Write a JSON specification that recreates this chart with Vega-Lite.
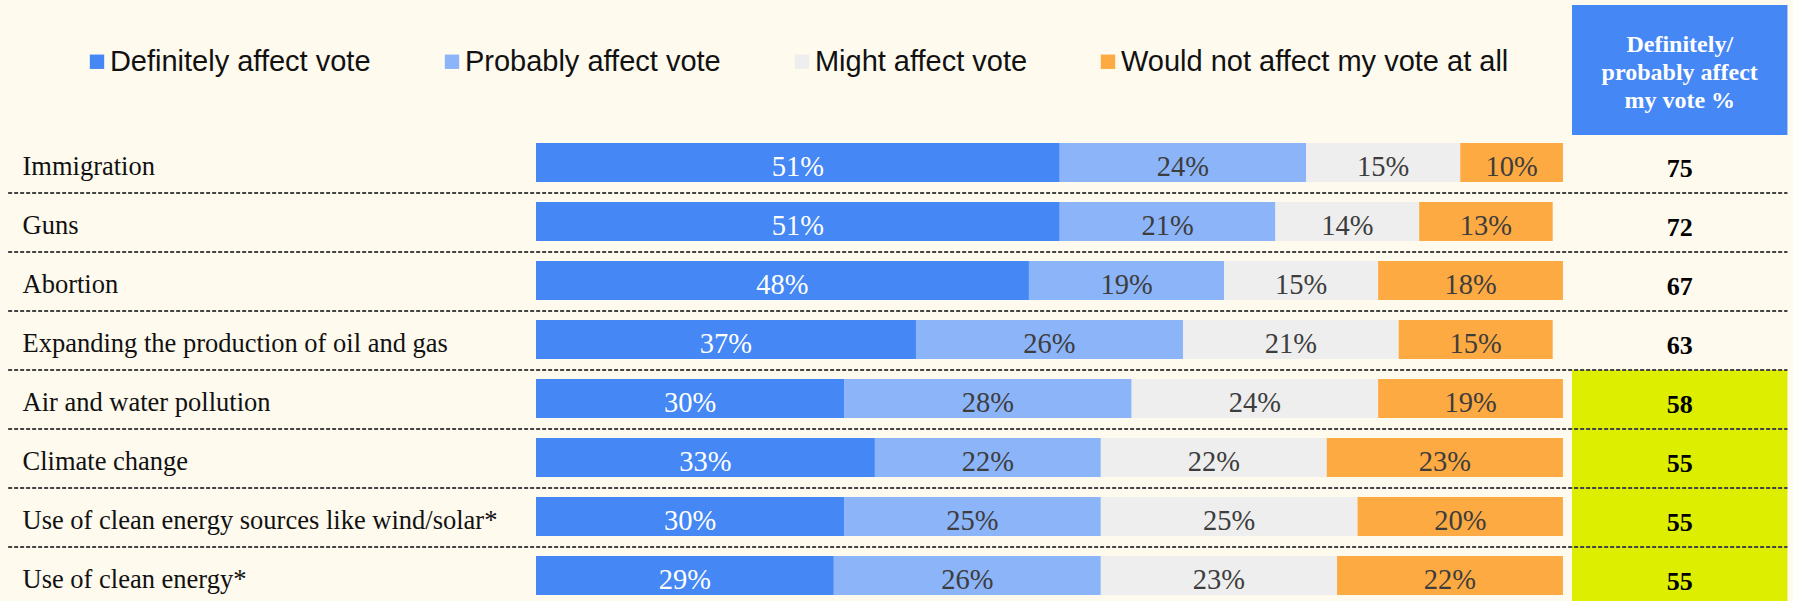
{
  "$schema": "https://vega.github.io/schema/vega-lite/v6.json",
  "width": 1257,
  "height": 468,
  "autosize": {"type": "none"},
  "padding": {"left": 536, "top": 133, "right": 0, "bottom": 0},
  "background": "#FEFAEE",
  "config": {"view": {"stroke": null}, "font": "Liberation Serif"},
  "datasets": {
    "responses": [
      {"topic": "Immigration", "response": "Definitely affect vote", "k": 1, "value": 51, "label": "51%"},
      {"topic": "Immigration", "response": "Probably affect vote", "k": 2, "value": 24, "label": "24%"},
      {"topic": "Immigration", "response": "Might affect vote", "k": 3, "value": 15, "label": "15%"},
      {"topic": "Immigration", "response": "Would not affect my vote at all", "k": 4, "value": 10, "label": "10%"},
      {"topic": "Guns", "response": "Definitely affect vote", "k": 1, "value": 51, "label": "51%"},
      {"topic": "Guns", "response": "Probably affect vote", "k": 2, "value": 21, "label": "21%"},
      {"topic": "Guns", "response": "Might affect vote", "k": 3, "value": 14, "label": "14%"},
      {"topic": "Guns", "response": "Would not affect my vote at all", "k": 4, "value": 13, "label": "13%"},
      {"topic": "Abortion", "response": "Definitely affect vote", "k": 1, "value": 48, "label": "48%"},
      {"topic": "Abortion", "response": "Probably affect vote", "k": 2, "value": 19, "label": "19%"},
      {"topic": "Abortion", "response": "Might affect vote", "k": 3, "value": 15, "label": "15%"},
      {"topic": "Abortion", "response": "Would not affect my vote at all", "k": 4, "value": 18, "label": "18%"},
      {"topic": "Expanding the production of oil and gas", "response": "Definitely affect vote", "k": 1, "value": 37, "label": "37%"},
      {"topic": "Expanding the production of oil and gas", "response": "Probably affect vote", "k": 2, "value": 26, "label": "26%"},
      {"topic": "Expanding the production of oil and gas", "response": "Might affect vote", "k": 3, "value": 21, "label": "21%"},
      {"topic": "Expanding the production of oil and gas", "response": "Would not affect my vote at all", "k": 4, "value": 15, "label": "15%"},
      {"topic": "Air and water pollution", "response": "Definitely affect vote", "k": 1, "value": 30, "label": "30%"},
      {"topic": "Air and water pollution", "response": "Probably affect vote", "k": 2, "value": 28, "label": "28%"},
      {"topic": "Air and water pollution", "response": "Might affect vote", "k": 3, "value": 24, "label": "24%"},
      {"topic": "Air and water pollution", "response": "Would not affect my vote at all", "k": 4, "value": 18, "label": "19%"},
      {"topic": "Climate change", "response": "Definitely affect vote", "k": 1, "value": 33, "label": "33%"},
      {"topic": "Climate change", "response": "Probably affect vote", "k": 2, "value": 22, "label": "22%"},
      {"topic": "Climate change", "response": "Might affect vote", "k": 3, "value": 22, "label": "22%"},
      {"topic": "Climate change", "response": "Would not affect my vote at all", "k": 4, "value": 23, "label": "23%"},
      {"topic": "Use of clean energy sources like wind/solar*", "response": "Definitely affect vote", "k": 1, "value": 30, "label": "30%"},
      {"topic": "Use of clean energy sources like wind/solar*", "response": "Probably affect vote", "k": 2, "value": 25, "label": "25%"},
      {"topic": "Use of clean energy sources like wind/solar*", "response": "Might affect vote", "k": 3, "value": 25, "label": "25%"},
      {"topic": "Use of clean energy sources like wind/solar*", "response": "Would not affect my vote at all", "k": 4, "value": 20, "label": "20%"},
      {"topic": "Use of clean energy*", "response": "Definitely affect vote", "k": 1, "value": 29, "label": "29%"},
      {"topic": "Use of clean energy*", "response": "Probably affect vote", "k": 2, "value": 26, "label": "26%"},
      {"topic": "Use of clean energy*", "response": "Might affect vote", "k": 3, "value": 23, "label": "23%"},
      {"topic": "Use of clean energy*", "response": "Would not affect my vote at all", "k": 4, "value": 22, "label": "22%"}
    ],
    "totals": [
      {"topic": "Immigration", "total": 75, "highlight": false},
      {"topic": "Guns", "total": 72, "highlight": false},
      {"topic": "Abortion", "total": 67, "highlight": false},
      {"topic": "Expanding the production of oil and gas", "total": 63, "highlight": false},
      {"topic": "Air and water pollution", "total": 58, "highlight": true},
      {"topic": "Climate change", "total": 55, "highlight": true},
      {"topic": "Use of clean energy sources like wind/solar*", "total": 55, "highlight": true},
      {"topic": "Use of clean energy*", "total": 55, "highlight": true}
    ],
    "header": [
      {"section": "header", "text": "Definitely/\nprobably affect\nmy vote %"}
    ]
  },
  "layer": [
    {
      "data": {"name": "responses"},
      "encoding": {
        "y": {
          "field": "topic", "type": "nominal",
          "scale": {"domain": ["Immigration", "Guns", "Abortion", "Expanding the production of oil and gas", "Air and water pollution", "Climate change", "Use of clean energy sources like wind/solar*", "Use of clean energy*"], "range": [0, 472], "paddingInner": 0, "paddingOuter": 0},
          "axis": {"title": null, "domain": false, "ticks": false, "tickSize": 0, "grid": false, "labelAlign": "left", "labelPadding": 514, "labelBaseline": "alphabetic", "labelOffset": 12.5, "labelFont": "Liberation Serif", "labelFontSize": 26.5, "labelColor": "#111111", "labelLimit": 700}
        }
      },
      "layer": [
        {
          "mark": {"type": "bar", "height": 39},
          "encoding": {
            "x": {"field": "value", "type": "quantitative", "stack": "zero", "scale": {"domain": [0, 122.4], "nice": false, "zero": false}, "axis": null},
            "color": {
              "field": "response", "type": "nominal",
              "scale": {"domain": ["Definitely affect vote", "Probably affect vote", "Might affect vote", "Would not affect my vote at all"], "range": ["#4487F5", "#8CB4F9", "#EEEEEE", "#FDAA42"]},
              "legend": {"orient": "none", "legendX": -453.5, "legendY": -86, "direction": "horizontal", "title": null, "symbolType": "square", "symbolSize": 207, "symbolStrokeWidth": 0, "labelFont": "Liberation Sans", "labelFontSize": 29, "labelColor": "#111111", "labelOffset": -1.6, "columnPadding": 66, "padding": 0, "labelLimit": 600}
            },
            "order": {"field": "k", "type": "quantitative"}
          }
        },
        {
          "mark": {"type": "text", "font": "Liberation Serif", "fontSize": 28.5, "baseline": "alphabetic", "align": "center", "dy": 13.5},
          "encoding": {
            "x": {"field": "value", "type": "quantitative", "stack": "zero", "bandPosition": 0.5, "scale": {"domain": [0, 122.4], "nice": false, "zero": false}, "axis": null},
            "detail": {"field": "response"},
            "order": {"field": "k", "type": "quantitative"},
            "text": {"field": "label"},
            "color": {"condition": {"test": "datum.k === 1", "value": "#FFFFFF"}, "value": "#3D3D3D"}
          }
        }
      ]
    },
    {
      "data": {"name": "totals"},
      "encoding": {
        "y": {
          "field": "topic", "type": "nominal",
          "scale": {"domain": ["Immigration", "Guns", "Abortion", "Expanding the production of oil and gas", "Air and water pollution", "Climate change", "Use of clean energy sources like wind/solar*", "Use of clean energy*"], "range": [0, 472], "paddingInner": 0, "paddingOuter": 0},
          "axis": null
        }
      },
      "layer": [
        {
          "transform": [{"filter": "datum.highlight"}],
          "mark": {"type": "rect", "color": "#DDEE00", "yOffset": 1},
          "encoding": {
            "x": {"datum": 100.88, "type": "quantitative", "scale": {"domain": [0, 122.4], "nice": false, "zero": false}, "axis": null},
            "x2": {"datum": 121.86}
          }
        },
        {
          "mark": {"type": "rule", "color": "#444444", "strokeWidth": 2, "strokeDash": [4, 2], "yOffset": 1},
          "encoding": {
            "x": {"datum": -51.4, "type": "quantitative", "scale": {"domain": [0, 122.4], "nice": false, "zero": false}, "axis": null},
            "x2": {"datum": 121.86},
            "y": {"field": "topic", "type": "nominal", "bandPosition": 1}
          }
        },
        {
          "mark": {"type": "text", "font": "Liberation Serif", "fontWeight": "bold", "fontSize": 26, "baseline": "alphabetic", "align": "center", "dy": 14, "color": "#000000"},
          "encoding": {
            "x": {"datum": 111.37, "type": "quantitative", "scale": {"domain": [0, 122.4], "nice": false, "zero": false}, "axis": null},
            "text": {"field": "total"}
          }
        }
      ]
    },
    {
      "data": {"name": "header"},
      "encoding": {
        "y": {"field": "section", "type": "nominal", "scale": {"range": [-128, 2], "paddingInner": 0, "paddingOuter": 0}, "axis": null}
      },
      "layer": [
        {
          "mark": {"type": "rect", "color": "#4487F5"},
          "encoding": {
            "x": {"datum": 100.88, "type": "quantitative", "scale": {"domain": [0, 122.4], "nice": false, "zero": false}, "axis": null},
            "x2": {"datum": 121.86}
          }
        },
        {
          "mark": {"type": "text", "font": "Liberation Serif", "fontWeight": "bold", "fontSize": 24, "lineHeight": 28, "lineBreak": "\n", "baseline": "alphabetic", "align": "center", "dy": -18, "color": "#FFFFFF"},
          "encoding": {
            "x": {"datum": 111.37, "type": "quantitative", "scale": {"domain": [0, 122.4], "nice": false, "zero": false}, "axis": null},
            "text": {"field": "text"}
          }
        }
      ]
    }
  ],
  "resolve": {"scale": {"y": "independent"}}
}
